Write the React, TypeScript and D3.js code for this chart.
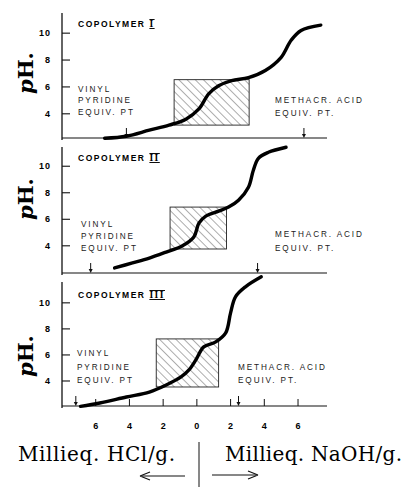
import { scaleLinear, line as d3line, curveCatmullRom } from "d3";

// signed milliequivalents: negative = HCl added, positive = NaOH added
const xTicks = [-6, -4, -2, 0, 2, 4, 6];
const xTickLabels = ["6", "4", "2", "0", "2", "4", "6"];
const yTicks = [4, 6, 8, 10];
const numerals = ["I", "II", "III"];

const curve1: [number, number][] = [
  [-5.47, 2.18], [-4.18, 2.33], [-2.82, 2.78], [-1.65, 3.16], [-0.65, 3.6],
  [0.12, 4.36], [0.7, 5.49], [1.29, 6.09], [2.06, 6.47], [3.06, 6.69],
  [4.06, 7.22], [5.0, 8.2], [5.59, 9.47], [6.18, 10.2], [7.35, 10.6],
];
const curve2: [number, number][] = [
  [-4.88, 2.33], [-3.82, 2.71], [-2.82, 3.08], [-1.82, 3.53], [-0.88, 3.98],
  [-0.18, 4.66], [0.12, 5.71], [0.53, 6.24], [1.29, 6.62], [1.88, 6.92],
  [2.47, 7.44], [3.06, 8.42], [3.35, 9.7], [3.65, 10.6], [4.24, 11.05], [5.29, 11.43],
];
const curve3: [number, number][] = [
  [-6.9, 2.05], [-5.76, 2.31], [-4.18, 2.77], [-2.82, 3.15], [-1.82, 3.69],
  [-0.94, 4.31], [-0.47, 4.85], [-0.06, 5.62], [0.41, 6.62], [1.12, 7.0],
  [1.71, 7.69], [2.0, 9.23], [2.29, 10.46], [2.88, 11.23], [3.82, 12.0],
];

// hatched region: [x0, x1, pH0, pH1]
const boxes = [
  [-1.35, 3.1, 3.16, 6.54],
  [-1.59, 1.76, 3.76, 6.92],
  [-2.41, 1.29, 3.54, 7.23],
];
const vinylEquiv = [-4.18, -6.3, -7.18];
const acidEquiv = [6.35, 3.6, 2.47];

const xScale = scaleLinear().domain([-8, 7.6]).range([62, 325]);

const sans = "'Liberation Sans', Arial, sans-serif";
const serif = "'DejaVu Serif', serif";

type PanelProps = {
  idx: number;
  data: [number, number][];
  yDomain: [number, number];
  yRange: [number, number];
  pLabelY: number;
  nameY: number;
  vinylX: number;
  vinylY: number[];
  acidX: number;
  acidY: number[];
  bottomTicks?: boolean;
};

function Panel(p: PanelProps) {
  const y = scaleLinear().domain(p.yDomain).range(p.yRange);
  const base = p.yRange[0];
  const top = p.yRange[1];
  const ln = d3line<[number, number]>()
    .x((d) => xScale(d[0]))
    .y((d) => y(d[1]))
    .curve(curveCatmullRom.alpha(0.5));
  const [bx0, bx1, by0, by1] = boxes[p.idx];
  const arrow = (v: number, k: string) => (
    <g key={k}>
      <line x1={xScale(v)} x2={xScale(v)} y1={base - 10} y2={base - 2} stroke="#111" strokeWidth={1} />
      <path
        d={`M${xScale(v) - 2},${base - 4} L${xScale(v) + 2},${base - 4} L${xScale(v)},${base} Z`}
        fill="#111"
      />
    </g>
  );
  const ann = { fontFamily: sans, fontSize: 8.2, letterSpacing: 1.9, fill: "#222" };
  return (
    <g>
      {/* axes */}
      <line x1={62} x2={62} y1={top} y2={base + 2} stroke="#111" strokeWidth={1.3} />
      <line x1={62} x2={xScale.range()[1] + 2} y1={base} y2={base} stroke="#111" strokeWidth={1.1} />
      {yTicks.map((t) => (
        <g key={t}>
          <line x1={62} x2={70} y1={y(t)} y2={y(t)} stroke="#111" strokeWidth={1.1} />
          <text
            x={51}
            y={y(t)}
            textAnchor="end"
            dominantBaseline="central"
            fontFamily={sans}
            fontSize={9}
            fontWeight="bold"
            letterSpacing={1}
          >
            {t}
          </text>
        </g>
      ))}
      {p.bottomTicks &&
        xTicks.map((t) => (
          <line key={t} x1={xScale(t)} x2={xScale(t)} y1={base} y2={base - 7} stroke="#111" strokeWidth={1} />
        ))}
      <text
        transform={`translate(25,${p.pLabelY}) rotate(-90)`}
        textAnchor="middle"
        dominantBaseline="central"
        fontFamily={serif}
        fontWeight="bold"
        fontSize={21}
      >
        <tspan fontStyle="italic">p</tspan>H.
      </text>
      <text x={78} y={p.nameY} fontFamily={sans} fontSize={8.5} fontWeight="bold" letterSpacing={1.5}>
        COPOLYMER{" "}
        <tspan fontFamily="'Liberation Serif', serif" fontSize={9.5} textDecoration="underline overline">
          {numerals[p.idx]}
        </tspan>
      </text>
      {/* hatched box */}
      <rect
        x={xScale(bx0)}
        y={y(by1)}
        width={xScale(bx1) - xScale(bx0)}
        height={y(by0) - y(by1)}
        fill="url(#hatch)"
        stroke="#222"
        strokeWidth={0.9}
      />
      {/* annotations */}
      <text x={p.vinylX} y={p.vinylY[0]} {...ann}>VINYL</text>
      <text x={p.vinylX} y={p.vinylY[1]} {...ann}>PYRIDINE</text>
      <text x={p.vinylX} y={p.vinylY[2]} {...ann}>EQUIV. PT</text>
      <text x={p.acidX} y={p.acidY[0]} {...ann}>METHACR. ACID</text>
      <text x={p.acidX} y={p.acidY[1]} {...ann}>EQUIV. PT.</text>
      {arrow(vinylEquiv[p.idx], "v")}
      {arrow(acidEquiv[p.idx], "a")}
      {/* titration curve */}
      <path d={ln(p.data) ?? ""} fill="none" stroke="#000" strokeWidth={3.4} strokeLinecap="round" />
    </g>
  );
}

export default function App() {
  return (
    <svg
      width={403}
      height={487}
      viewBox="0 0 403 487"
      style={{ position: "absolute", left: 0, top: 0, background: "#fff" }}
    >
      <defs>
        <pattern id="hatch" patternUnits="userSpaceOnUse" width={5.8} height={5.8} patternTransform="rotate(-45)">
          <line x1={0} y1={0} x2={0} y2={5.8} stroke="#333" strokeWidth={0.8} />
        </pattern>
      </defs>
      <rect width={403} height={487} fill="#fff" />
      <Panel
        idx={0}
        data={curve1}
        yDomain={[2.2, 11.5]}
        yRange={[138, 13]}
        pLabelY={73}
        nameY={27}
        vinylX={78}
        vinylY={[92, 103, 115]}
        acidX={275}
        acidY={[103, 116]}
      />
      <Panel
        idx={1}
        data={curve2}
        yDomain={[1.95, 11.45]}
        yRange={[273, 147]}
        pLabelY={199}
        nameY={161}
        vinylX={81}
        vinylY={[227, 239, 251]}
        acidX={275}
        acidY={[237, 251]}
      />
      <Panel
        idx={2}
        data={curve3}
        yDomain={[2.08, 11.6]}
        yRange={[406, 282]}
        pLabelY={356}
        nameY={298}
        vinylX={77}
        vinylY={[356, 370, 383]}
        acidX={238}
        acidY={[370, 383]}
        bottomTicks
      />
      {xTicks.map((t, i) => (
        <text
          key={t}
          x={xScale(t)}
          y={426}
          textAnchor="middle"
          dominantBaseline="central"
          fontFamily={sans}
          fontSize={9}
          fontWeight="bold"
        >
          {xTickLabels[i]}
        </text>
      ))}
      <text x={18} y={461} fontFamily={serif} fontSize={20} textLength={157} lengthAdjust="spacing">
        Millieq. HCl/g.
      </text>
      <text x={225} y={461} fontFamily={serif} fontSize={20} textLength={177} lengthAdjust="spacing">
        Millieq. NaOH/g.
      </text>
      <line x1={199} x2={199} y1={442} y2={487} stroke="#111" strokeWidth={1} />
      <line x1={185} x2={142} y1={476} y2={476} stroke="#111" strokeWidth={1.2} />
      <path d="M140,476 L150,472 M140,476 L150,480" stroke="#111" strokeWidth={1.2} fill="none" />
      <line x1={212} x2={256} y1={475} y2={475} stroke="#111" strokeWidth={1.2} />
      <path d="M258,475 L248,471 M258,475 L248,479" stroke="#111" strokeWidth={1.2} fill="none" />
    </svg>
  );
}
